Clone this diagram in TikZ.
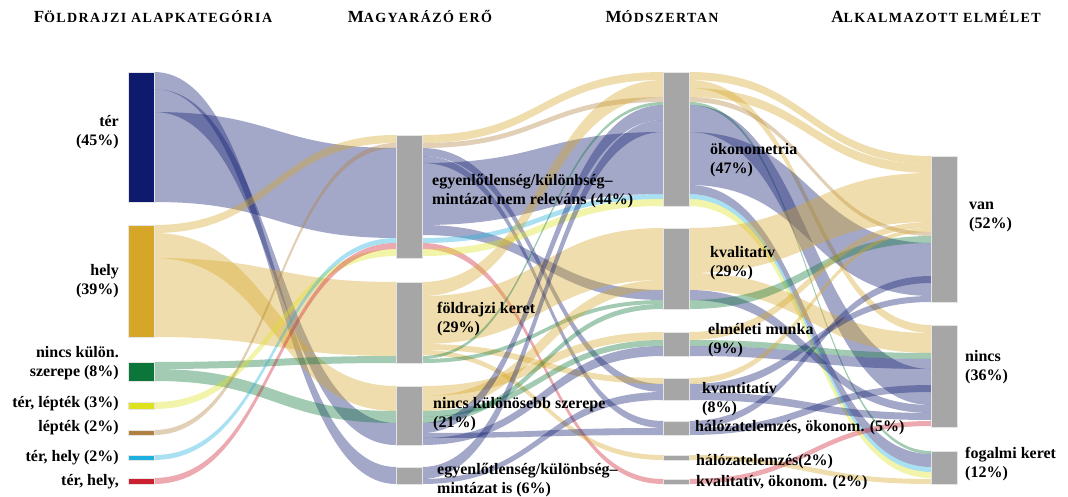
\documentclass[tikz,border=0pt]{standalone}
\usepackage{fontspec}
\setmainfont{Liberation Serif}
\usetikzlibrary{calc}

\definecolor{tercol}{RGB}{14,26,110}
\definecolor{helycol}{RGB}{214,166,40}
\definecolor{zoldcol}{RGB}{12,118,58}
\definecolor{limecol}{RGB}{222,226,30}
\definecolor{barnacol}{RGB}{176,128,64}
\definecolor{ciancol}{RGB}{30,176,222}
\definecolor{piroscol}{RGB}{204,32,48}
\definecolor{szurke}{RGB}{166,166,166}

\pgfdeclarelayer{flows}
\pgfsetlayers{flows,main}

\tikzset{
  bar/.style={rectangle, inner sep=0pt, outer sep=0pt, minimum width=26pt,
    anchor=north, draw=black!10, line width=0.6pt},
  graybar/.style={bar, fill=szurke},
  lab/.style={font=\bfseries\fontsize{16}{19}\selectfont, inner sep=0pt,
    align=left, anchor=west},
  labr/.style={lab, align=right, anchor=east},
  head/.style={font=\bfseries, inner sep=0pt, anchor=base}
}

% band between two bars: src, top, bottom, dst, top, bottom, colour
\newcommand{\flow}[7]{%
  \fill[#7, fill opacity=0.38]
    let \p1 = ($(#1.north east)+(0,#2)$), \p2 = ($(#1.north east)+(0,#3)$),
        \p3 = ($(#4.north west)+(0,#5)$), \p4 = ($(#4.north west)+(0,#6)$),
        \n1 = {(\x1+\x3)/2} in
    (\p1) .. controls (\n1,\y1) and (\n1,\y3) .. (\p3)
    -- (\p4) .. controls (\n1,\y4) and (\n1,\y2) .. (\p2) -- cycle;}

\newcommand{\kiskap}[2]{{\fontsize{17}{20}\selectfont #1}{\fontsize{14}{20}\selectfont\addfontfeature{LetterSpace=10}#2}}

\begin{document}
\begin{tikzpicture}[x=1pt, y=-1pt]
  %    \draw [help lines] (0,0) grid (1068,497);
  \useasboundingbox (0,0) rectangle (1068,497);

  \node (h1) [head] at (153,23) {\kiskap{F}{ÖLDRAJZI ALAPKATEGÓRIA}};
  \node (h2) [head] at (420,23) {\kiskap{M}{AGYARÁZÓ ERŐ}};
  \node (h3) [head] at (662,23) {\kiskap{M}{ÓDSZERTAN}};
  \node (h4) [head] at (936,23) {\kiskap{A}{LKALMAZOTT ELMÉLET}};

  % first column
  \node (ter) [bar, fill=tercol, minimum height=130pt] at (141,72) {};
  \node (hely) [bar, fill=helycol, minimum height=112pt] at (141,225) {};
  \node (nincskul) [bar, fill=zoldcol, minimum height=19pt] at (141,362) {};
  \node (terlep) [bar, fill=limecol, minimum height=7pt] at (141,402) {};
  \node (lepek) [bar, fill=barnacol, minimum height=5pt] at (141,430) {};
  \node (terhely) [bar, fill=ciancol, minimum height=5pt] at (141,455) {};
  \node (terhely3) [bar, fill=piroscol, minimum height=6pt] at (141,478) {};

  % second column
  \node (nemrel) [graybar, minimum height=123pt] at (409,135) {};
  \node (foldker) [graybar, minimum height=81pt] at (409,282) {};
  \node (nincssz) [graybar, minimum height=59pt] at (409,386) {};
  \node (mintis) [graybar, minimum height=17pt] at (409,467) {};

  % third column
  \node (okon) [graybar, minimum height=134pt] at (676,72) {};
  \node (kval) [graybar, minimum height=81pt] at (676,228) {};
  \node (elm) [graybar, minimum height=24pt] at (676,332) {};
  \node (kvant) [graybar, minimum height=22pt] at (676,378) {};
  \node (halok) [graybar, minimum height=14pt] at (676,421) {};
  \node (hal) [graybar, minimum height=5pt] at (676,455) {};
  \node (kvalok) [graybar, minimum height=5pt] at (676,479) {};

  % fourth column
  \node (van) [graybar, minimum height=146pt] at (944,156) {};
  \node (nincs) [graybar, minimum height=102pt] at (944,325) {};
  \node (fog) [graybar, minimum height=33pt] at (944,451) {};

  \begin{pgfonlayer}{flows}
    \flow{ter}{0}{17}{mintis}{0}{17}{tercol}
    \flow{ter}{17}{40}{nincssz}{37}{59}{tercol}
    \flow{ter}{40}{130}{nemrel}{13}{103}{tercol}
    \flow{hely}{0}{8}{nemrel}{0}{8}{helycol}
    \flow{hely}{8}{33}{nincssz}{0}{25}{helycol}
    \flow{hely}{33}{112}{foldker}{0}{74}{helycol}
    \flow{nincskul}{0}{7}{foldker}{74}{81}{zoldcol}
    \flow{nincskul}{7}{19}{nincssz}{25}{37}{zoldcol}
    \flow{terlep}{0}{7}{nemrel}{114}{121}{limecol}
    \flow{lepek}{0}{5}{nemrel}{8}{13}{barnacol}
    \flow{terhely}{0}{5}{nemrel}{103}{108}{ciancol}
    \flow{terhely3}{0}{6}{nemrel}{108}{114}{piroscol}

    \flow{nemrel}{0}{8}{okon}{0}{8}{helycol}
    \flow{nemrel}{8}{13}{okon}{25}{30}{barnacol}
    \flow{nemrel}{13}{21}{kvant}{6}{14}{tercol}
    \flow{nemrel}{21}{28}{halok}{0}{7}{tercol}
    \flow{nemrel}{28}{90}{okon}{60}{122}{tercol}
    \flow{nemrel}{90}{100}{kval}{62}{72}{tercol}
    \flow{nemrel}{103}{108}{okon}{122}{127}{ciancol}
    \flow{nemrel}{108}{114}{kvalok}{0}{5}{piroscol}
    \flow{nemrel}{114}{121}{okon}{127}{134}{limecol}
    \flow{foldker}{0}{14}{okon}{8}{25}{helycol}
    \flow{foldker}{14}{62}{kval}{0}{52}{helycol}
    \flow{foldker}{62}{68}{kvant}{0}{6}{helycol}
    \flow{foldker}{68}{73}{hal}{0}{5}{helycol}
    \flow{foldker}{74}{77}{okon}{30}{33}{zoldcol}
    \flow{foldker}{77}{81}{kval}{72}{76}{zoldcol}
    \flow{nincssz}{0}{10}{elm}{0}{8}{helycol}
    \flow{nincssz}{10}{25}{kval}{52}{62}{helycol}
    \flow{nincssz}{25}{31}{elm}{8}{14}{zoldcol}
    \flow{nincssz}{31}{37}{kval}{76}{81}{zoldcol}
    \flow{nincssz}{37}{47}{okon}{33}{48}{tercol}
    \flow{nincssz}{47}{52}{halok}{7}{14}{tercol}
    \flow{nincssz}{52}{59}{elm}{14}{24}{tercol}
    \flow{mintis}{0}{12}{okon}{48}{60}{tercol}
    \flow{mintis}{12}{17}{kvant}{14}{22}{tercol}

    \flow{okon}{0}{8}{van}{0}{8}{helycol}
    \flow{okon}{8}{16}{nincs}{0}{8}{helycol}
    \flow{okon}{16}{25}{van}{8}{17}{helycol}
    \flow{okon}{25}{30}{van}{76}{80}{barnacol}
    \flow{okon}{30}{33}{fog}{0}{3}{zoldcol}
    \flow{okon}{33}{60}{nincs}{44}{80}{tercol}
    \flow{okon}{60}{113}{van}{87}{140}{tercol}
    \flow{okon}{113}{122}{fog}{3}{16}{tercol}
    \flow{okon}{122}{127}{fog}{16}{21}{ciancol}
    \flow{okon}{127}{134}{fog}{21}{27}{limecol}
    \flow{kval}{0}{45}{van}{17}{66}{helycol}
    \flow{kval}{45}{62}{nincs}{8}{28}{helycol}
    \flow{kval}{62}{72}{nincs}{80}{88}{tercol}
    \flow{kval}{72}{81}{van}{80}{87}{zoldcol}
    \flow{elm}{0}{8}{van}{66}{72}{helycol}
    \flow{elm}{8}{14}{nincs}{28}{34}{zoldcol}
    \flow{elm}{14}{24}{nincs}{34}{44}{tercol}
    \flow{kvant}{0}{6}{van}{72}{76}{helycol}
    \flow{kvant}{6}{14}{van}{140}{146}{tercol}
    \flow{kvant}{14}{22}{nincs}{88}{95}{tercol}
    \flow{halok}{0}{7}{van}{120}{127}{tercol}
    \flow{halok}{7}{14}{nincs}{60}{67}{tercol}
    \flow{hal}{0}{5}{fog}{28}{33}{helycol}
    \flow{kvalok}{0}{5}{nincs}{96}{101}{piroscol}
  \end{pgfonlayer}

  % labels
  \node (lter) [labr] at (119,132) {tér\\(45\%)};
  \node (lhely) [labr] at (119,281) {hely\\(39\%)};
  \node (lnincskul) [labr] at (119,363) {nincs külön.\\szerepe (8\%)};
  \node (lterlep) [labr] at (119,404) {tér, lépték (3\%)};
  \node (llepek) [labr] at (119,428) {lépték (2\%)};
  \node (lterhely) [labr] at (119,458) {tér, hely (2\%)};
  \node (lterhely3) [labr] at (119,482) {tér, hely,};

  \node (lnemrel) [lab] at (432,191) {egyenlőtlenség/különbség–\\mintázat nem releváns (44\%)};
  \node (lfoldker) [lab] at (437,319) {földrajzi keret\\(29\%)};
  \node (lnincssz) [lab] at (433,414) {nincs különösebb szerepe\\(21\%)};
  \node (lmintis) [lab] at (437,480) {egyenlőtlenség/különbség–\\mintázat is (6\%)};

  \node (lokon) [lab] at (710,160) {ökonometria\\(47\%)};
  \node (lkval) [lab] at (710,263) {kvalitatív\\(29\%)};
  \node (lelm) [lab] at (708,340) {elméleti munka\\(9\%)};
  \node (lkvant) [lab] at (702,399) {kvantitatív\\(8\%)};
  \node (lhalok) [lab] at (695,428) {hálózatelemzés, ökonom. (5\%)};
  \node (lhal) [lab] at (696,462) {hálózatelemzés(2\%)};
  \node (lkvalok) [lab] at (696,483) {kvalitatív, ökonom. (2\%)};

  \node (lvan) [lab] at (969,217) {van\\(52\%)};
  \node (lnincs) [lab] at (965,367) {nincs\\(36\%)};
  \node (lfog) [lab] at (965,464) {fogalmi keret\\(12\%)};
\end{tikzpicture}
\end{document}
